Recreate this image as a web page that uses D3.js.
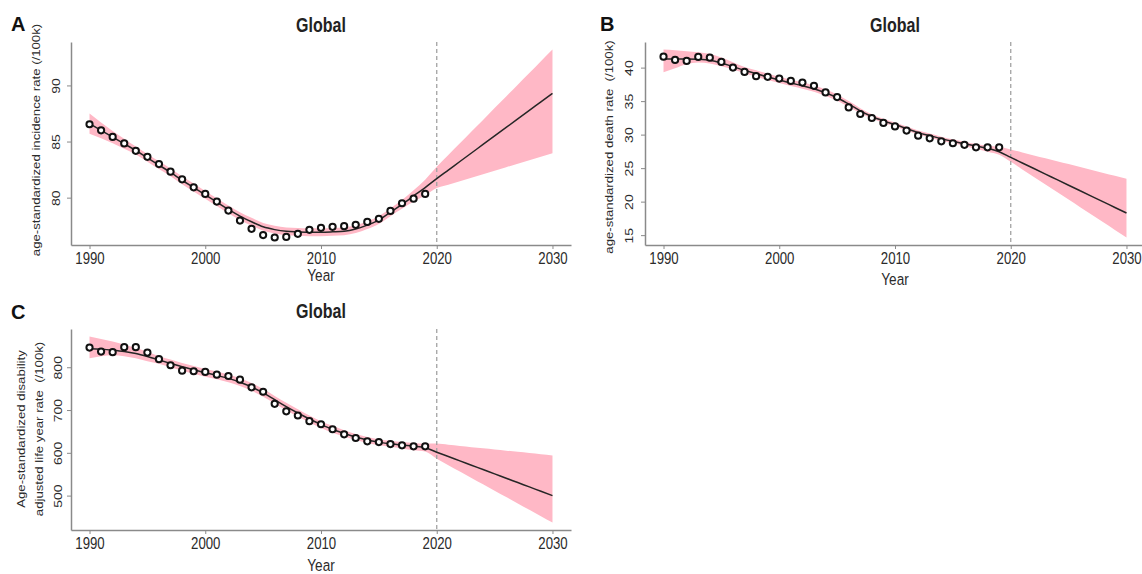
<!DOCTYPE html>
<html>
<head>
<meta charset="utf-8">
<script src="https://cdn.jsdelivr.net/npm/d3@7"></script>
<style>
  html, body { margin: 0; padding: 0; background: #fff; }
  svg { display: block; font-family: "Liberation Sans", Arial, Helvetica, sans-serif; }
  text { white-space: pre; }
</style>
</head>
<body>
<script>
// ---------------- DATA ----------------
const obsYears = [1990,1991,1992,1993,1994,1995,1996,1997,1998,1999,2000,2001,2002,2003,2004,2005,2006,2007,2008,2009,2010,2011,2012,2013,2014,2015,2016,2017,2018,2019];
const fitYears = [1990,1991,1992,1993,1994,1995,1996,1997,1998,1999,2000,2001,2002,2003,2004,2005,2006,2007,2008,2009,2010,2011,2012,2013,2014,2015,2016,2017,2018,2019,2020,2021,2022,2023,2024,2025,2026,2027,2028,2029,2030];
const xTickYears = [1990, 2000, 2010, 2020, 2030];
const forecastStart = 2020;

// A: age-standardized incidence rate (/100k)
const incidenceObs = [86.54,86.0,85.41,84.83,84.17,83.64,82.99,82.31,81.63,80.92,80.33,79.65,78.85,77.96,77.22,76.66,76.45,76.5,76.78,77.13,77.31,77.40,77.46,77.58,77.84,78.11,78.82,79.50,79.91,80.33];
const incidenceFit = [86.6,86.0,85.4,84.8,84.2,83.55,82.9,82.25,81.55,80.9,80.25,79.6,78.95,78.35,77.85,77.4,77.15,77.0,76.95,76.92,76.92,76.95,77.0,77.2,77.55,78.0,78.7,79.4,80.15,80.9,81.7,82.46,83.22,83.98,84.74,85.5,86.26,87.02,87.78,88.54,89.3];
const incidenceLower = [85.7,85.3,84.85,84.35,83.85,83.2,82.55,81.9,81.2,80.55,79.9,79.25,78.6,78.0,77.5,77.05,76.8,76.65,76.6,76.57,76.57,76.6,76.65,76.85,77.2,77.65,78.35,79.0,79.65,80.2,80.85,81.16,81.47,81.78,82.09,82.4,82.71,83.02,83.33,83.64,83.95];
const incidenceUpper = [87.5,86.7,85.95,85.25,84.55,83.9,83.25,82.6,81.9,81.25,80.6,79.95,79.3,78.7,78.2,77.75,77.5,77.35,77.3,77.27,77.27,77.3,77.35,77.55,77.9,78.35,79.05,79.8,80.65,81.6,82.75,83.8,84.84,85.89,86.93,87.98,89.02,90.07,91.11,92.16,93.2];
const incidenceTicks = [80, 85, 90];

// B: age-standardized death rate (/100k)
const deathObs = [41.63,41.14,41.0,41.59,41.49,40.85,40.0,39.36,38.72,38.62,38.37,38.02,37.77,37.28,36.29,35.6,34.06,33.08,32.48,31.74,31.23,30.6,29.85,29.45,29.0,28.71,28.47,28.11,28.11,28.11];
const deathFit = [41.3,41.3,41.3,41.25,41.1,40.7,40.15,39.6,39.1,38.6,38.15,37.7,37.3,36.85,36.25,35.5,34.55,33.55,32.7,32.05,31.5,30.9,30.3,29.85,29.4,29.0,28.65,28.3,27.95,27.45,26.6,25.77,24.94,24.11,23.28,22.45,21.62,20.79,19.96,19.13,18.3];
const deathLower = [39.3,39.9,40.5,40.75,40.6,40.2,39.7,39.15,38.65,38.15,37.7,37.25,36.85,36.4,35.8,35.05,34.15,33.2,32.4,31.75,31.2,30.6,30.0,29.55,29.1,28.7,28.3,27.85,27.45,27.0,25.94,24.81,23.68,22.55,21.42,20.3,19.17,18.04,16.91,15.78,14.65];
const deathUpper = [42.7,42.6,42.45,42.3,42.05,41.5,40.8,40.1,39.6,39.1,38.65,38.2,37.8,37.35,36.75,36.0,35.0,33.95,33.05,32.35,31.8,31.2,30.6,30.15,29.7,29.3,28.95,28.6,28.35,28.2,27.77,27.34,26.9,26.47,26.03,25.6,25.16,24.73,24.29,23.86,23.42];
const deathTicks = [15, 20, 25, 30, 35, 40];

// C: age-standardized DALY rate (/100k)
const dalyObs = [846,836.6,835.2,847,847,834.3,818.8,804.7,792,790.6,789,782.6,779.6,770.9,753,742.7,714.5,697,687.2,673.9,666.8,655.1,643.3,634.6,626.9,625.2,620.5,617.5,615.1,615.1];
const dalyFit = [843,842,840,837,832,825,817,809,801,794,787,781,774,765,754,740,724,708,693,679,666,655,645,637,630,625,621,618,615.5,612,601.5,591.4,581.2,571.1,560.9,550.8,540.6,530.5,520.3,510.2,500];
const dalyLower = [821,826,828,826,821,814,808,800,792,785,778,772,765,756,745,731,715,699,685,671,658,647,638,630,623,618,614,610,606,603,586,571.1,556.2,541.3,526.4,511.5,496.6,481.7,466.8,451.9,437];
const dalyUpper = [872,866,860,853,845,836,826,818,810,803,796,790,783,774,763,749,733,717,702,687,674,663,653,644,637,632,628,625,623,621,621.5,618.75,616,613.25,610.5,607.75,605,602.25,599.5,596.75,594];
const dalyTicks = [500, 600, 700, 800];

const panelLetters = ["A", "B", "C"];
const panelTitles = ["Global", "Global", "Global"];
const yLabels = [
  ["age-standardized incidence rate (/100k)"],
  ["age-standardized death rate  (/100k)"],
  ["Age-standardized disability", "adjusted life year rate  (/100k)"]
];
const xLabel = "Year";

// ---------------- LAYOUT ----------------
const W = 1142, H = 574;
const layout = [
  { xRange: [71, 571],   yRange: [245, 42],  letter: [11, 31],  titleY: 31.5, yearY: 281, ylabX: [40],     ylabY: 140, yTickOff: -11 },
  { xRange: [645, 1145], yRange: [245, 42],  letter: [600, 31], titleY: 31.5, yearY: 285, ylabX: [613],    ylabY: 147, yTickOff: -12 },
  { xRange: [71, 571],   yRange: [530, 329], letter: [11, 319], titleY: 317.5, yearY: 571, ylabX: [25, 43], ylabY: 429, yTickOff: -9 }
];
const series = [
  { obs: incidenceObs, fit: incidenceFit, lower: incidenceLower, upper: incidenceUpper, ticks: incidenceTicks },
  { obs: deathObs,     fit: deathFit,     lower: deathLower,     upper: deathUpper,     ticks: deathTicks },
  { obs: dalyObs,      fit: dalyFit,      lower: dalyLower,      upper: dalyUpper,      ticks: dalyTicks }
];

const COL = {
  ribbon: "#FFB8C6",
  line: "#262626",
  point: "#111111",
  axis: "#8a8a8a",
  tickText: "#2b2b2b",
  labelText: "#2b2b2b",
  dash: "#a3a3a3"
};
const SX = 0.8; // horizontal condensation of text seen in reference

// R-style 4% axis extension
function pad(ext) {
  const d = (ext[1] - ext[0]) * 0.04;
  return [ext[0] - d, ext[1] + d];
}

const svg = d3.select("body").append("svg").attr("width", W).attr("height", H);

series.forEach((s, k) => {
  const L = layout[k];
  const x = d3.scaleLinear().domain(pad(d3.extent(xTickYears))).range(L.xRange);
  const allVals = s.obs.concat(s.fit, s.lower, s.upper);
  const y = d3.scaleLinear().domain(pad(d3.extent(allVals))).range(L.yRange);
  const g = svg.append("g");

  const fitData = fitYears.map((yr, i) => ({ yr, fit: s.fit[i], lo: s.lower[i], hi: s.upper[i] }));
  const obsData = obsYears.map((yr, i) => ({ yr, v: s.obs[i] }));

  // ribbon
  g.append("path")
    .datum(fitData)
    .attr("fill", COL.ribbon)
    .attr("d", d3.area().curve(d3.curveMonotoneX)
      .x(d => x(d.yr)).y0(d => y(d.lo)).y1(d => y(d.hi)));

  // forecast divider
  g.append("line")
    .attr("x1", x(forecastStart)).attr("x2", x(forecastStart))
    .attr("y1", L.yRange[1]).attr("y2", L.yRange[0])
    .attr("stroke", COL.dash).attr("stroke-width", 1.3)
    .attr("stroke-dasharray", "4,3");

  // fitted / projected line
  g.append("path")
    .datum(fitData)
    .attr("fill", "none")
    .attr("stroke", COL.line)
    .attr("stroke-width", 1.5)
    .attr("d", d3.line().curve(d3.curveMonotoneX).x(d => x(d.yr)).y(d => y(d.fit)));

  // observed points
  g.selectAll("circle.obs").data(obsData).enter().append("circle")
    .attr("class", "obs")
    .attr("cx", d => x(d.yr)).attr("cy", d => y(d.v))
    .attr("r", 3.1)
    .attr("fill", "#fff")
    .attr("stroke", COL.point)
    .attr("stroke-width", 2);

  // x axis
  const gx = g.append("g")
    .attr("transform", `translate(0,${L.yRange[0]})`)
    .call(d3.axisBottom(x).tickValues(xTickYears).tickFormat(d3.format("d"))
      .tickSize(4).tickSizeOuter(0).tickPadding(3.5));
  gx.attr("font-family", null).attr("font-size", null);
  gx.select(".domain").attr("stroke", COL.axis).attr("stroke-width", 1.5);
  gx.selectAll(".tick line").attr("stroke", COL.axis).attr("stroke-width", 1);
  gx.selectAll(".tick text")
    .attr("fill", COL.tickText)
    .attr("font-size", "16.5px")
    .attr("transform", `scale(${SX},1)`);

  // y axis
  const gy = g.append("g")
    .attr("transform", `translate(${L.xRange[0]},0)`)
    .call(d3.axisLeft(y).tickValues(s.ticks).tickSize(4).tickSizeOuter(0));
  gy.attr("font-family", null).attr("font-size", null);
  gy.select(".domain").attr("stroke", COL.axis).attr("stroke-width", 1.5);
  gy.selectAll(".tick line").attr("stroke", COL.axis).attr("stroke-width", 1);
  gy.selectAll(".tick text")
    .attr("x", 0).attr("y", 0).attr("dy", null)
    .attr("text-anchor", "middle")
    .attr("fill", COL.tickText)
    .attr("font-size", "14px")
    .attr("transform", `translate(${L.yTickOff},0) scale(${SX},1) rotate(-90)`);

  // y label
  yLabels[k].forEach((line, j) => {
    g.append("text")
      .attr("transform", `translate(${L.ylabX[j]},${L.ylabY}) scale(${SX},1) rotate(-90)`)
      .attr("text-anchor", "middle")
      .attr("font-size", "13.2px")
      .attr("fill", COL.labelText)
      .text(line);
  });

  const cx = (L.xRange[0] + L.xRange[1]) / 2;
  // x label
  g.append("text")
    .attr("transform", `translate(${cx},${L.yearY}) scale(${SX},1)`)
    .attr("text-anchor", "middle")
    .attr("font-size", "17px")
    .attr("fill", COL.labelText)
    .text(xLabel);

  // title
  g.append("text")
    .attr("transform", `translate(${cx},${L.titleY}) scale(${SX},1)`)
    .attr("text-anchor", "middle")
    .attr("font-size", "20px")
    .attr("font-weight", "bold")
    .attr("fill", "#222")
    .text(panelTitles[k]);

  // panel letter
  g.append("text")
    .attr("x", L.letter[0]).attr("y", L.letter[1])
    .attr("font-size", "20px")
    .attr("font-weight", "bold")
    .attr("fill", "#111")
    .text(panelLetters[k]);
});
</script>
</body>
</html>
